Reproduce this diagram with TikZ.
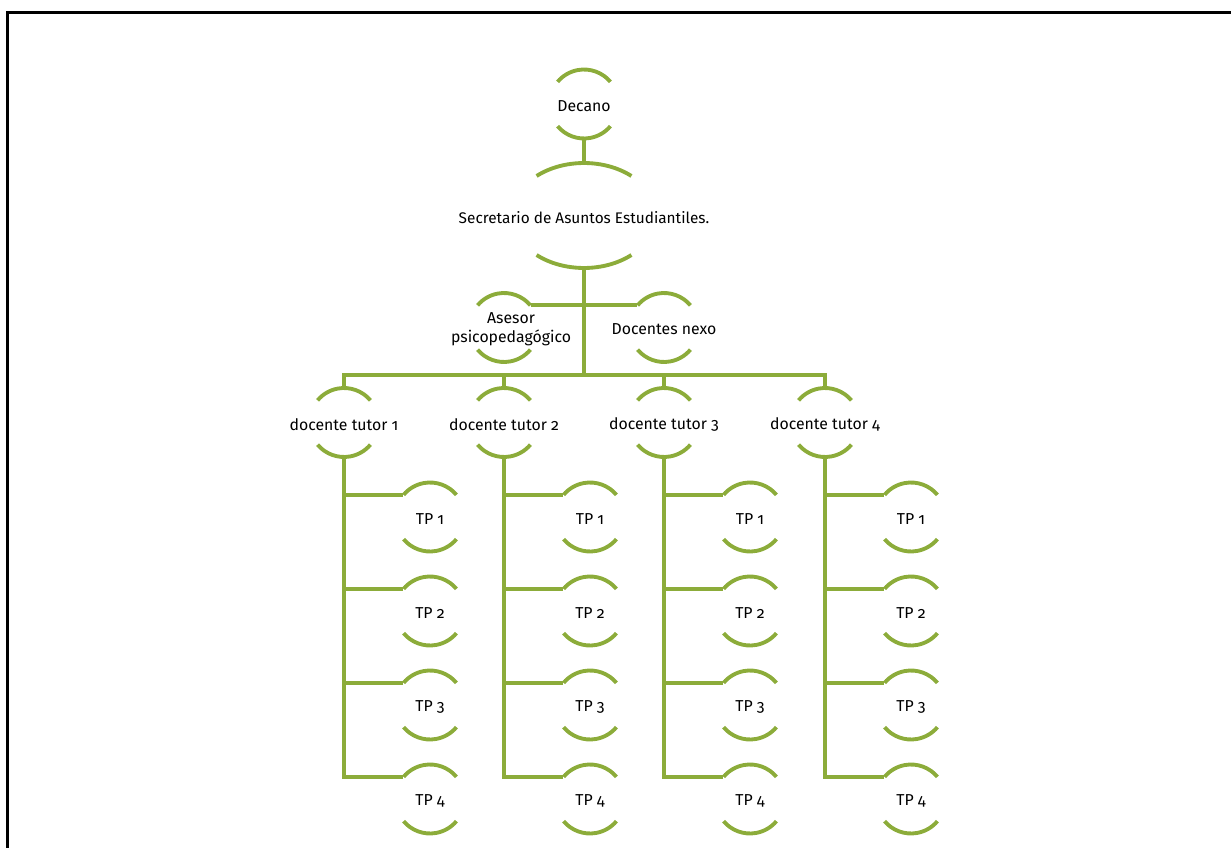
\documentclass[tikz,border=0pt]{standalone}
\usepackage{fontspec}
\setmainfont{Fira Sans}[Numbers=OldStyle]
\usetikzlibrary{shapes.geometric, positioning, calc}
\definecolor{orgGreen}{RGB}{140,172,58}

\tikzset{
  orgline/.style={draw=orgGreen, line width=2.2pt},
  orgbox/.style={circle, minimum size=1.38cm, inner sep=0pt},
  orgtext/.style={font=\fontsize{9}{11}\selectfont, text=black, align=center, yshift=-1pt},
}
\newcommand{\orgarcs}[1]{%
  \draw[orgline] ([shift={(40:0.69cm)}]#1.center) arc[start angle=40, end angle=140, radius=0.69cm]
    ([shift={(220:0.69cm)}]#1.center) arc[start angle=220, end angle=320, radius=0.69cm];}

\begin{document}
\begin{tikzpicture}[x=0.02cm, y=0.02cm]
\useasboundingbox (0,0) rectangle (1231,-848);
\draw[line width=1.7pt] (7.5,-848) -- (7.5,-12.5) -- (1231,-12.5);

% top of the chart
\node[orgbox, label={[orgtext]center:Decano}] (dec) at (584,-104) {};
\node[ellipse, minimum width=2.88cm, minimum height=2.1cm, inner sep=0pt, label={[orgtext, font=\fontsize{8.75}{11}\selectfont]center:Secretario de Asuntos Estudiantiles.}] (sec) at (584,-215.5) {};
\node[orgbox, label={[orgtext, xshift=0.14cm, font=\fontsize{9}{11.2}\selectfont]center:{Asesor\\psicopedagógico}}] (ase) at (504,-327.5) {};
\node[orgbox, label={[orgtext]center:Docentes nexo}] (nexo) at (664,-327.5) {};

\foreach \n in {dec, ase, nexo} {\orgarcs{\n}}
\draw[orgline] ([shift={(48.8:1.44cm and 1.05cm)}]sec.center) arc[start angle=48.8, end angle=131.2, x radius=1.44cm, y radius=1.05cm]
  ([shift={(228.8:1.44cm and 1.05cm)}]sec.center) arc[start angle=228.8, end angle=311.2, x radius=1.44cm, y radius=1.05cm];

\draw[orgline] (dec.south) -- (sec.north);
\coordinate (bus) at (584,-375);
\draw[orgline] (sec.south) -- (bus);
\draw[orgline] (ase.40) -- (nexo.140);

% tutors and their TPs
\foreach \i/\x in {1/344, 2/504, 3/664, 4/825} {
  \node[orgbox, label={[orgtext]center:docente tutor \i}] (t\i) at (\x,-422.5) {};
  \orgarcs{t\i}
  \foreach \j/\y in {1/517, 2/611, 3/705, 4/799} {
    \node[orgbox, label={[orgtext]center:TP \j}] (tp\i\j) at (\x+86,-\y) {};
    \orgarcs{tp\i\j}
  }
  \draw[orgline] (t\i.south) |- (tp\i4.140);
  \foreach \j in {1,2,3} {\draw[orgline] (t\i.south |- tp\i\j.140) -- (tp\i\j.140);}
}

\draw[orgline] (t1.north) |- (bus) -| (t4.north);
\draw[orgline] (t2.north) -- (t2.north |- bus);
\draw[orgline] (t3.north) -- (t3.north |- bus);
\end{tikzpicture}
\end{document}
